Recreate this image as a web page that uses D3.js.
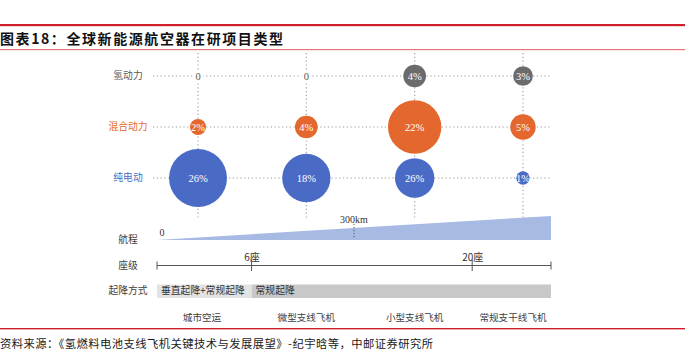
<!DOCTYPE html>
<html><head><meta charset="utf-8">
<script src="https://cdn.jsdelivr.net/npm/d3@7/dist/d3.min.js"></script>
<style>
html,body{margin:0;padding:0;background:#fff;}
svg{display:block;}
</style></head>
<body>
<svg id="chart" width="685" height="360"></svg>
<script>
// ---- data ----
const title = "图表18：全球新能源航空器在研项目类型";
const source = "资料来源：《氢燃料电池支线飞机关键技术与发展展望》-纪宇晗等，中邮证券研究所";
const categories = ["城市空运", "微型支线飞机", "小型支线飞机", "常规支干线飞机"];
const powerTypes = ["氢动力", "混合动力", "纯电动"];
const hydrogen = [0, 0, 4, 3];
const hybrid = [2, 4, 22, 5];
const electric = [26, 18, 26, 1];
// bubble area as drawn in the source picture (differs from label for 小型支线飞机 纯电动)
const hydrogenSize = [0, 0, 4, 3];
const hybridSize = [2, 4, 22, 5];
const electricSize = [26, 18, 12, 1.4];
const rangeTicks = [0, 300];
const rangeTickLabels = ["0", "300km"];
const rangeMax = 600;
const seatTicks = [6, 20];
const seatTickLabels = ["6座", "20座"];
const seatMax = 25;
const takeoffSegments = [
  {label: "垂直起降+常规起降", from: 0, to: 6},
  {label: "常规起降", from: 6, to: 25}
];
const bottomRows = ["航程", "座级", "起降方式"];

// ---- drawing ----
const svg = d3.select("#chart");
const cjk = "'Noto Sans CJK SC', 'Noto Sans', sans-serif";
const serif = "'Liberation Serif', 'DejaVu Serif', serif";
const colors = {"氢动力": "#6b6b6e", "混合动力": "#e4682d", "纯电动": "#4a6bc5"};
const labelColors = {"氢动力": "#5a5a5a", "混合动力": "#e4682d", "纯电动": "#4a6bc5"};

// header rules and title
svg.append("rect").attr("x", 0).attr("y", 24).attr("width", 685).attr("height", 2.2).attr("fill", "#cf1f2b");
svg.append("rect").attr("x", 0).attr("y", 49).attr("width", 685).attr("height", 1.2).attr("fill", "#e8737b");
svg.append("text").attr("x", 0).attr("y", 43.5)
  .attr("font-family", cjk).attr("font-weight", "bold").attr("font-size", 14)
  .attr("fill", "#111").attr("textLength", 283).attr("lengthAdjust", "spacing")
  .text(title);

// bottom rule and source
svg.append("rect").attr("x", 0).attr("y", 328).attr("width", 685).attr("height", 1.4).attr("fill", "#cf1f2b");
svg.append("text").attr("x", 0).attr("y", 348)
  .attr("font-family", cjk).attr("font-size", 11.3)
  .attr("fill", "#1a1a1a").attr("textLength", 433).attr("lengthAdjust", "spacing")
  .text(source);

// scales
const x = d3.scalePoint().domain(categories).range([198, 523]);
const y = d3.scalePoint().domain(powerTypes).range([76, 178]);
const r = d3.scaleSqrt().domain([0, 26]).range([0, 29]);
const xRange = d3.scaleLinear().domain([0, rangeMax]).range([157, 551]);
const xSeat = d3.scaleLinear().domain([0, seatMax]).range([157, 551]);

// grid (dotted)
const grid = svg.append("g").attr("stroke", "#9a9a9a").attr("stroke-width", 1.1).attr("stroke-dasharray", "1.2,2.6");
grid.selectAll("line.h").data(powerTypes).join("line")
  .attr("x1", 153).attr("x2", 552).attr("y1", d => y(d)).attr("y2", d => y(d));
grid.selectAll("line.v").data(categories).join("line")
  .attr("x1", d => x(d)).attr("x2", d => x(d)).attr("y1", 53).attr("y2", 219);

// row labels
svg.selectAll("text.row").data(powerTypes).join("text")
  .attr("x", 128).attr("y", d => y(d)).attr("dy", "0.35em")
  .attr("text-anchor", "middle").attr("font-family", cjk).attr("font-size", 9.8)
  .attr("fill", d => labelColors[d]).text(d => d);

// bubbles
const seriesVals = {"氢动力": hydrogen, "混合动力": hybrid, "纯电动": electric};
const seriesSize = {"氢动力": hydrogenSize, "混合动力": hybridSize, "纯电动": electricSize};
const points = [];
powerTypes.forEach(p => categories.forEach((c, i) => points.push({p, c, v: seriesVals[p][i], s: seriesSize[p][i]})));

svg.selectAll("circle.b").data(points.filter(d => d.s > 0)).join("circle")
  .attr("cx", d => x(d.c)).attr("cy", d => y(d.p)).attr("r", d => r(d.s))
  .attr("fill", d => colors[d.p]);

svg.selectAll("rect.zbg").data(points.filter(d => d.v === 0)).join("rect")
  .attr("x", d => x(d.c) - 5).attr("y", d => y(d.p) - 6).attr("width", 10).attr("height", 12).attr("fill", "#fff");

svg.selectAll("text.bl").data(points).join("text")
  .attr("x", d => x(d.c)).attr("y", d => y(d.p)).attr("dy", "0.35em")
  .attr("text-anchor", "middle").attr("font-family", serif).attr("font-size", 10.5)
  .attr("fill", d => d.v === 0 ? "#555" : "#fff")
  .text(d => d.v === 0 ? "0" : d.v + "%");

// bottom row labels
const rowY = {"航程": 240, "座级": 266, "起降方式": 291};
svg.selectAll("text.brow").data(bottomRows).join("text")
  .attr("x", 128).attr("y", d => rowY[d]).attr("dy", "0.35em")
  .attr("text-anchor", "middle").attr("font-family", cjk).attr("font-size", 9.8)
  .attr("fill", "#404040").text(d => d);

// range wedge
const wedge = [[0, 0], [rangeMax, 24], [rangeMax, 0]];
svg.append("path")
  .attr("d", d3.line()(wedge.map(([v, h]) => [xRange(v), 240 - h])) + "Z")
  .attr("fill", "#a7bae3");
const rslope = 24 / rangeMax;
svg.selectAll("line.rt").data(rangeTicks.filter(v => v > 0)).join("line")
  .attr("x1", d => xRange(d)).attr("x2", d => xRange(d))
  .attr("y1", d => 240 - rslope * d - 4).attr("y2", 239)
  .attr("stroke", "#555").attr("stroke-width", 1).attr("stroke-dasharray", "1.2,1.8");
svg.selectAll("text.rtl").data(rangeTicks).join("text")
  .attr("x", (d, i) => i === 0 ? xRange(d) + 5 : xRange(d))
  .attr("y", (d, i) => i === 0 ? 232 : 219).attr("dy", "0.35em")
  .attr("text-anchor", "middle").attr("font-family", serif).attr("font-size", 10)
  .attr("fill", "#333").text((d, i) => rangeTickLabels[i]);

// seat axis
const seatAxis = d3.axisTop(xSeat).tickValues(seatTicks).tickSize(0).tickFormat((d, i) => seatTickLabels[i]);
const sg = svg.append("g").attr("transform", "translate(0,265.5)").call(seatAxis);
sg.select(".domain").remove();
sg.selectAll(".tick text").attr("font-family", cjk).attr("font-size", 10).attr("fill", "#333").attr("dy", "-0.2em");
svg.append("line").attr("x1", xSeat(0)).attr("x2", xSeat(seatMax)).attr("y1", 265.5).attr("y2", 265.5)
  .attr("stroke", "#555").attr("stroke-width", 1);
svg.selectAll("line.st").data([0, ...seatTicks, seatMax]).join("line")
  .attr("x1", d => xSeat(d)).attr("x2", d => xSeat(d))
  .attr("y1", d => (d === 0 || d === seatMax) ? 261.5 : 259.5).attr("y2", d => (d === 0 || d === seatMax) ? 269.5 : 271)
  .attr("stroke", "#555").attr("stroke-width", 1);

// takeoff bars
svg.selectAll("rect.tk").data(takeoffSegments).join("rect")
  .attr("x", d => xSeat(d.from)).attr("width", d => xSeat(d.to) - xSeat(d.from))
  .attr("y", 284.5).attr("height", 13.5)
  .attr("fill", (d, i) => i === 0 ? "#e3e3e3" : "#c8c8c8");
svg.selectAll("text.tk").data(takeoffSegments).join("text")
  .attr("x", d => xSeat(d.from) + 4).attr("y", 291).attr("dy", "0.35em")
  .attr("font-family", cjk).attr("font-size", 9.8).attr("fill", "#333").text(d => d.label);

// category labels
svg.selectAll("text.cat").data(categories).join("text")
  .attr("x", (d, i) => i === 3 ? x(d) - 10 : x(d) + (i === 0 ? 4 : 0)).attr("y", 318).attr("dy", "0.35em")
  .attr("text-anchor", "middle").attr("font-family", cjk).attr("font-size", 9.6)
  .attr("fill", "#404040").text(d => d);
</script>
</body></html>
